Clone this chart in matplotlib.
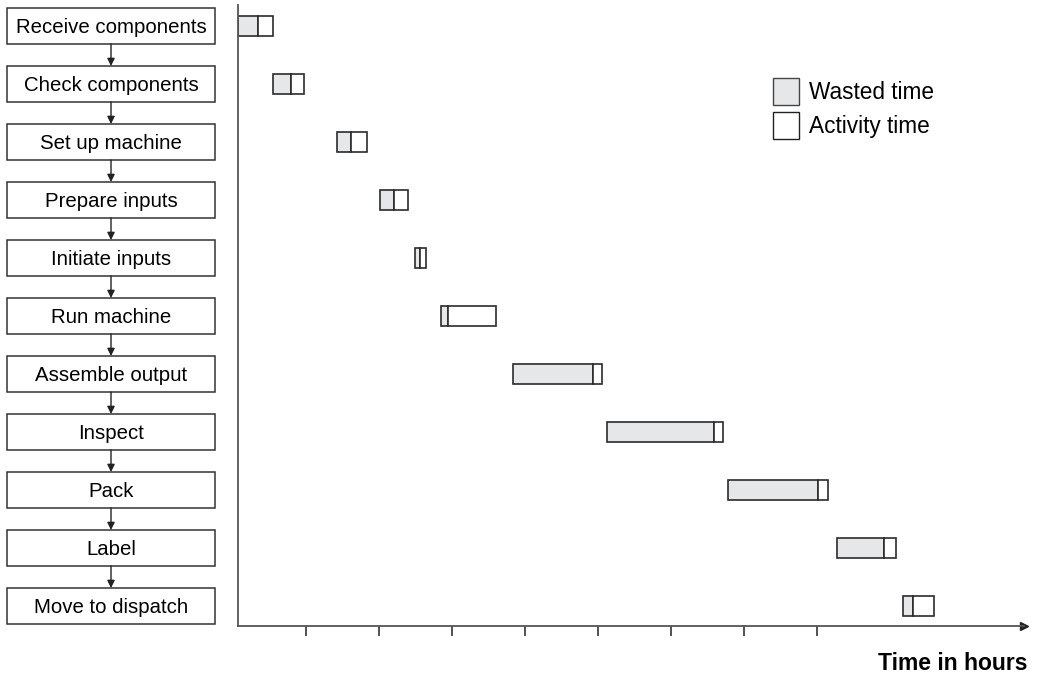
import matplotlib
matplotlib.use('Agg')
import matplotlib.pyplot as plt
from matplotlib.patches import Rectangle, Patch

"""
Process activity chart: wasted vs activity time per step
"""

steps = ['Receive components', 'Check components', 'Set up machine',
         'Prepare inputs', 'Initiate inputs', 'Run machine',
         'Assemble output', 'Inspect', 'Pack', 'Label', 'Move to dispatch']
# hours
start = [0.07, 0.55, 1.43, 2.01, 2.50, 2.85, 3.84, 5.13, 6.78, 8.28, 9.18]
wasted = [0.27, 0.25, 0.19, 0.20, 0.06, 0.10, 1.10, 1.46, 1.23, 0.64, 0.14]
activity = [0.21, 0.17, 0.22, 0.19, 0.08, 0.66, 0.12, 0.13, 0.15, 0.17, 0.28]
hour_ticks = [1, 2, 3, 4, 5, 6, 7, 8]

WASTE_COL = '#e6e7e8'
EDGE_COL = '#2b2b2b'

plt.rcParams['font.family'] = ['Liberation Sans', 'DejaVu Sans']

fig = plt.figure(figsize=(10.37, 6.74), dpi=100)
W, H = 1037., 674.
bottom = 1 - 626 / H
top = 1 - 5 / H
ylims = (10.345, -0.362)

# main chart
ax = fig.add_axes([238 / W, bottom, (1024 - 238) / W, top - bottom])
bar_h = 0.33
for i in range(len(steps)):
    ax.add_patch(Rectangle((start[i], i - bar_h / 2), wasted[i], bar_h,
                           facecolor=WASTE_COL, edgecolor=EDGE_COL, lw=1.2))
    ax.add_patch(Rectangle((start[i] + wasted[i], i - bar_h / 2), activity[i], bar_h,
                           facecolor='white', edgecolor=EDGE_COL, lw=1.2))
ax.set_xlim(0.068, 10.84)
ax.set_ylim(*ylims)
for s in ['top', 'right']:
    ax.spines[s].set_visible(False)
for s in ['left', 'bottom']:
    ax.spines[s].set_color('#555555')
    ax.spines[s].set_linewidth(1.3)
ax.set_xticks(hour_ticks)
ax.set_xticklabels([])
ax.set_yticks([])
ax.tick_params(axis='x', direction='out', length=7.5, width=1.1, color='#222222')
ax.plot(1, 0, '>', color='#222222', ms=6, transform=ax.transAxes, clip_on=False)

ax.legend(handles=[Patch(facecolor=WASTE_COL, edgecolor='#444444', lw=1.0, label='Wasted time'),
                   Patch(facecolor='white', edgecolor='#222222', lw=1.0, label='Activity time')],
          loc='upper left', bbox_to_anchor=(773 / W, 1 - 78 / H),
          bbox_transform=fig.transFigure, frameon=False, fontsize=16.3,
          handlelength=1.15, handleheight=1.45, handletextpad=0.45,
          labelspacing=0.3, borderpad=0, borderaxespad=0)

fig.text(1028 / W, 1 - 663 / H, 'Time in hours', ha='right', va='center',
         fontsize=16.5, fontweight='bold')

# flow of steps on the left
axl = fig.add_axes([0, bottom, 238 / W, top - bottom])
axl.set_xlim(0, 238)
axl.set_ylim(*ylims)
axl.axis('off')
box_h = 0.62
for i, name in enumerate(steps):
    axl.add_patch(Rectangle((7, i - box_h / 2), 208, box_h,
                            facecolor='white', edgecolor='#333333', lw=1.1))
    axl.text(111, i, name, ha='center', va='center_baseline', fontsize=14.7)
    if i < len(steps) - 1:
        axl.annotate('', xy=(111, i + 1 - box_h / 2), xytext=(111, i + box_h / 2),
                     arrowprops=dict(arrowstyle='-|>', color='#222222', lw=1.0,
                                     mutation_scale=11, shrinkA=0, shrinkB=0))

fig.savefig('out.png', dpi=100)
